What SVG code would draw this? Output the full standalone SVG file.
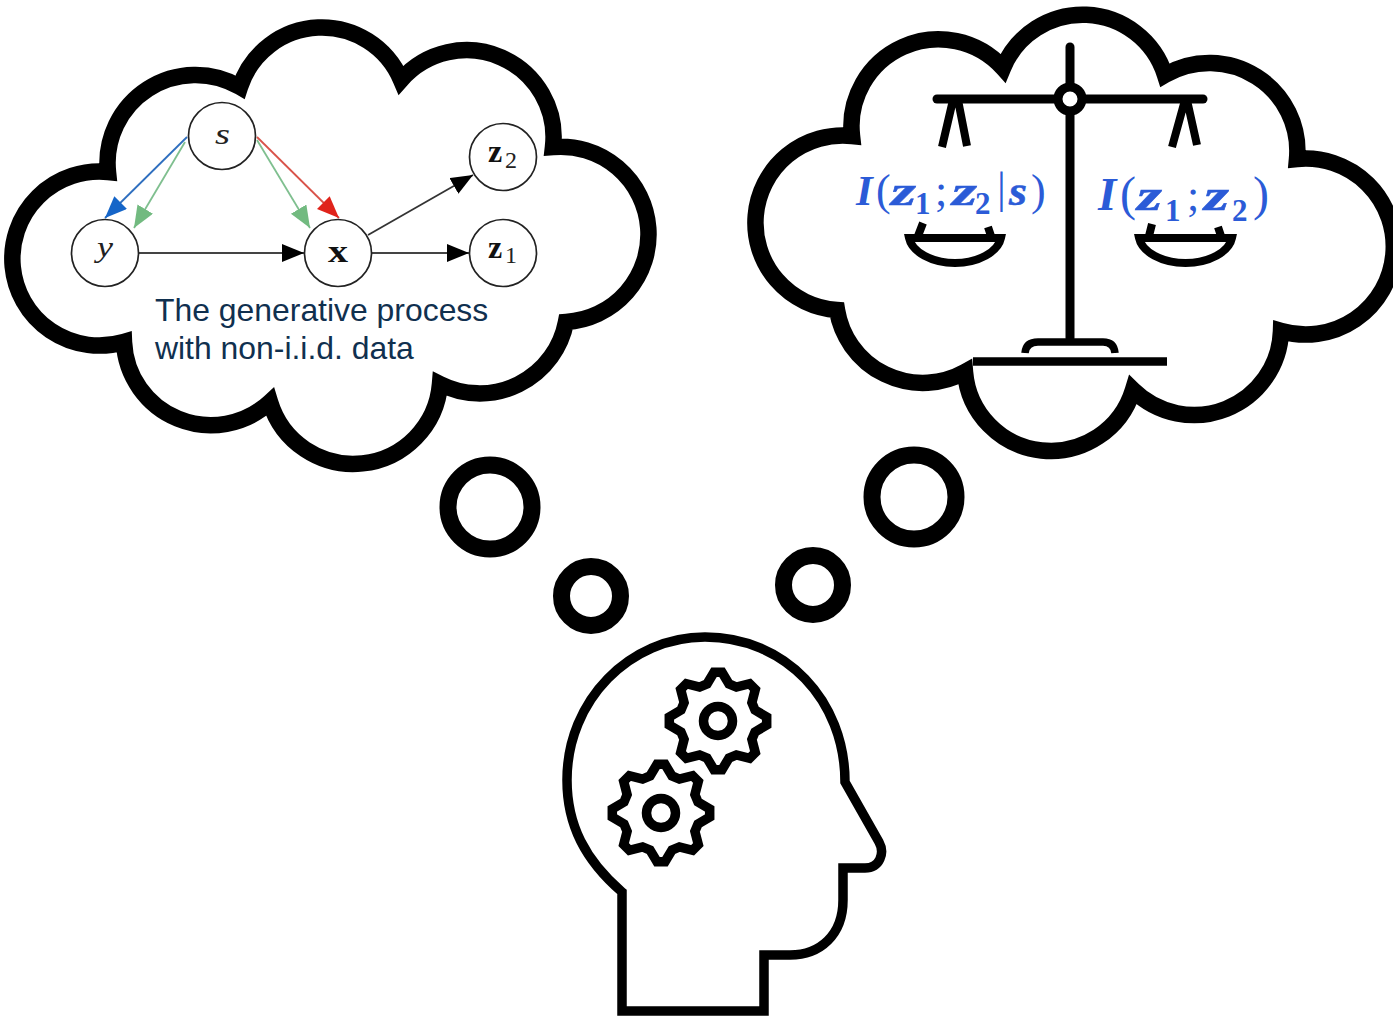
<svg xmlns="http://www.w3.org/2000/svg" xmlns:xlink="http://www.w3.org/1999/xlink" width="1393" height="1016" viewBox="0 0 1393 1016">
<style>
.cloud{fill:#fff;stroke:#000;stroke-width:16.5;stroke-linejoin:miter;stroke-miterlimit:8}
.bubble{fill:#fff;stroke:#000;stroke-width:17}
.node{fill:#fff;stroke:#222;stroke-width:1.7}
.edge{fill:none;stroke-width:1.8}
.it{font-family:"Liberation Serif",serif;font-style:italic;font-size:30px;fill:#222}
.bd{font-family:"Liberation Serif",serif;font-weight:bold;font-size:32px;fill:#111}
.sb{font-family:"Liberation Serif",serif;font-size:24px;fill:#222}
.cap{font-family:"Liberation Sans",Arial,sans-serif;font-size:31.9px;fill:#10304f}
.m{font-family:"Liberation Serif",serif;font-weight:bold;font-style:italic;font-size:41px;fill:#2b5bd7;stroke:#2b5bd7;stroke-width:.5}
.mi{font-family:"Liberation Serif",serif;font-weight:bold;font-style:italic;font-size:43px;fill:#2b5bd7}
.ms{font-family:"Liberation Serif",serif;font-weight:bold;font-size:31px;fill:#2b5bd7}
.mp{font-family:"Liberation Serif",serif;font-size:44px;fill:#2b5bd7}
.sc{fill:none;stroke:#000;stroke-width:9;stroke-linecap:round}
.sb2{fill:none;stroke:#000;stroke-width:8}
.head{fill:#fff;stroke:#000;stroke-width:9.5;stroke-linejoin:miter}
.gear{fill:none;stroke:#000;stroke-width:9.5;stroke-linejoin:miter}
</style>
<defs>
<marker id="ak" markerUnits="userSpaceOnUse" markerWidth="24" markerHeight="20" refX="22" refY="9" orient="auto"><path d="M0 0L22 9L0 18Z" fill="#000"/></marker>
<marker id="ab" markerUnits="userSpaceOnUse" markerWidth="24" markerHeight="20" refX="22" refY="9" orient="auto"><path d="M0 0L22 9L0 18Z" fill="#1565c8"/></marker>
<marker id="ag" markerUnits="userSpaceOnUse" markerWidth="24" markerHeight="20" refX="22" refY="9" orient="auto"><path d="M0 0L22 9L0 18Z" fill="#72ba80"/></marker>
<marker id="ar" markerUnits="userSpaceOnUse" markerWidth="24" markerHeight="20" refX="22" refY="9" orient="auto"><path d="M0 0L22 9L0 18Z" fill="#e0231b"/></marker>
<g id="gearshape">
<path class="gear" d="M-11 -37L-4 -48.7L4 -48.7L11 -37L18.4 -33.9L31.6 -37.3L37.3 -31.6L33.9 -18.4L37 -11L48.7 -4L48.7 4L37 11L33.9 18.4L37.3 31.6L31.6 37.3L18.4 33.9L11 37L4 48.7L-4 48.7L-11 37L-18.4 33.9L-31.6 37.3L-37.3 31.6L-33.9 18.4L-37 11L-48.7 4L-48.7 -4L-37 -11L-33.9 -18.4L-37.3 -31.6L-31.6 -37.3L-18.4 -33.9Z"/>
<circle class="gear" r="14.5"/>
</g>
</defs>
<rect width="1393" height="1016" fill="#fff"/>
<g id="cloud-left"><path class="cloud" d="M108 172A88 88 0 0 1 240 87A86 86 0 0 1 401 80A87 87 0 0 1 553 147A87.75 87.75 0 1 1 566 322A88 88 0 0 1 440 384A87 87 0 0 1 270 402A87 87 0 0 1 124 342A87 87 0 1 1 108 172Z"/></g>
<g id="cloud-right"><path class="cloud" d="M852 136A87 87 0 0 1 1003 68A86.3 86.3 0 0 1 1165 75A88 88 0 0 1 1297 159A88 88 0 1 1 1281 331A87 87 0 0 1 1133 390A86 86 0 0 1 965 372A87 87 0 0 1 837 310A87.34 87.34 0 1 1 852 136Z"/></g>
<g id="bubbles">
<circle class="bubble" cx="490" cy="507" r="42"/>
<circle class="bubble" cx="591" cy="596" r="29.5"/>
<circle class="bubble" cx="813" cy="585" r="29.5"/>
<circle class="bubble" cx="914" cy="497" r="42"/>
</g>
<g id="connectors">
<path class="edge" stroke="#2f6fbf" marker-end="url(#ab)" d="M187 137L105 218"/>
<path class="edge" stroke="#7fbf8f" marker-end="url(#ag)" d="M185 142L134 228"/>
<path class="edge" stroke="#7fbf8f" marker-end="url(#ag)" d="M257 140L310 228"/>
<path class="edge" stroke="#d9534a" marker-end="url(#ar)" d="M257 137L339 218"/>
<path class="edge" stroke="#444" marker-end="url(#ak)" d="M139 253L304 253"/>
<path class="edge" stroke="#444" marker-end="url(#ak)" d="M372 253L469 253"/>
<path class="edge" stroke="#333" marker-end="url(#ak)" d="M368 235L473 175"/>
</g>
<g id="node-s"><circle class="node" cx="222" cy="136" r="33.5"/><text class="it" x="215" y="144" textLength="15" lengthAdjust="spacingAndGlyphs">s</text></g>
<g id="node-y"><circle class="node" cx="105" cy="253" r="33.5"/><text class="it" x="97" y="257" textLength="16" lengthAdjust="spacingAndGlyphs">y</text></g>
<g id="node-x"><circle class="node" cx="338" cy="253" r="33.5"/><text class="bd" x="328" y="262" textLength="20" lengthAdjust="spacingAndGlyphs">x</text></g>
<g id="node-z2"><circle class="node" cx="503" cy="157" r="33.5"/><text class="bd" x="488" y="162">z</text><text class="sb" x="505" y="168">2</text></g>
<g id="node-z1"><circle class="node" cx="503" cy="253" r="33.5"/><text class="bd" x="488" y="258">z</text><text class="sb" x="505" y="263">1</text></g>
<g id="caption"><text class="cap" x="155" y="321">The generative process</text><text class="cap" x="155" y="359">with non-i.i.d. data</text></g>
<g id="scale">
<path class="sc" d="M1070 47V338"/>
<path class="sc" d="M937 99H1203"/>
<circle cx="1070" cy="99" r="12" fill="#fff" stroke="#000" stroke-width="9"/>
<path class="sb2" d="M953 100L942 147M958 100L967 146M1185 100L1172 147M1187 100L1197 145M923 223L918 236M988 227L991 236M1152 224L1149 236M1218 227L1221 236"/>
<path class="sb2" d="M909 238H1001C998 252 978 263 955 263C932 263 912 252 909 238Z"/>
<path class="sb2" d="M1139 238H1232C1229 252 1209 263 1185.500 263C1162 263 1142 252 1139 238Z"/>
<path fill="none" stroke="#000" stroke-width="7.500" d="M1025 353Q1026 342 1038 342H1103Q1114 342 1115 353"/>
<path fill="none" stroke="#000" stroke-width="8.500" d="M973 361.500H1167"/>
</g>
<g id="formula-left">
<text class="mi" x="856" y="205">I</text><text class="mp" x="876" y="205">(</text><text class="m" x="891" y="205" textLength="25" lengthAdjust="spacingAndGlyphs">z</text><text class="ms" x="915" y="214">1</text><text class="mp" x="935" y="205">;</text><text class="m" x="952" y="205" textLength="25" lengthAdjust="spacingAndGlyphs">z</text><text class="ms" x="975" y="214">2</text><text class="mp" x="997" y="203">|</text><text class="m" x="1009" y="205" textLength="18" lengthAdjust="spacingAndGlyphs">s</text><text class="mp" x="1031" y="205">)</text>
</g>
<g id="formula-right">
<text class="mi" x="1098" y="210" style="font-size:47px">I</text><text class="mp" x="1120" y="210" style="font-size:48px">(</text><text class="m" x="1137" y="210" textLength="25" lengthAdjust="spacingAndGlyphs" style="font-size:44px">z</text><text class="ms" x="1165" y="221">1</text><text class="mp" x="1187" y="210">;</text><text class="m" x="1204" y="210" textLength="25" lengthAdjust="spacingAndGlyphs" style="font-size:44px">z</text><text class="ms" x="1232" y="221">2</text><text class="mp" x="1253" y="210" style="font-size:48px">)</text>
</g>
<g id="head">
<path class="head" d="M622 1011V892C585 860 567 825 567 780C567 700 630 637 705 637C785 637 845 700 845 782L879 842C885 853 880 868 865 868H843V900C843 935 820 955 790 955H764V1011Z"/>
</g>
<g id="gears">
<use xlink:href="#gearshape" href="#gearshape" x="718" y="721"/>
<use xlink:href="#gearshape" href="#gearshape" x="661" y="813"/>
</g>
</svg>
